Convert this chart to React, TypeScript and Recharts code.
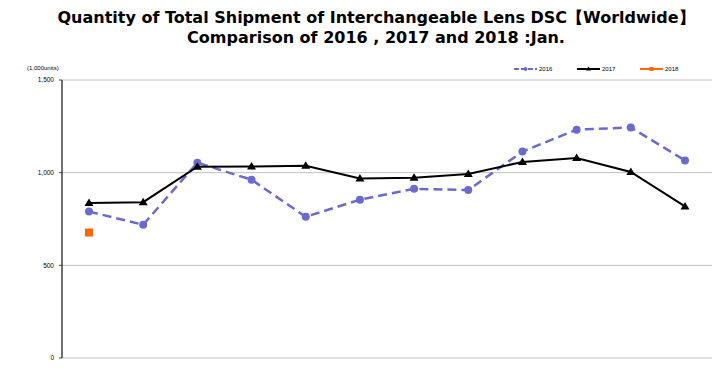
import React from 'react';
import { LineChart, Line, XAxis, YAxis, CartesianGrid } from 'recharts';

const months = ['Jan', 'Feb', 'Mar', 'Apr', 'May', 'Jun', 'Jul', 'Aug', 'Sep', 'Oct', 'Nov', 'Dec'];
const s2016 = [790, 719, 1054, 962, 762, 854, 913, 906, 1114, 1232, 1244, 1066];
const s2017 = [837, 841, 1032, 1033, 1037, 968, 973, 993, 1058, 1079, 1004, 818];
const s2018: (number | null)[] = [677, null, null, null, null, null, null, null, null, null, null, null];
const yTicks = [0, 500, 1000, 1500];
const seriesNames = ['2016', '2017', '2018'];

const data = months.map((m, i) => ({ month: m, y2016: s2016[i], y2017: s2017[i], y2018: s2018[i] }));

const C2016 = '#6b6bcf';
const C2017 = '#000000';
const C2018 = '#ff6600';
const colors = [C2016, C2017, C2018];

const Circle = (p: any) => {
  if (p.cx == null || p.cy == null || p.value == null) return <g key={p.index} />;
  return <circle key={p.index} cx={p.cx} cy={p.cy} r={4} fill={C2016} stroke="none" />;
};
const Tri = (p: any) => {
  if (p.cx == null || p.cy == null || p.value == null) return <g key={p.index} />;
  const { cx, cy } = p;
  return <path key={p.index} d={`M${cx},${cy - 4.5} L${cx + 4.5},${cy + 3} L${cx - 4.5},${cy + 3} Z`} fill={C2017} />;
};
const Sq = (p: any) => {
  if (p.cx == null || p.cy == null || p.value == null) return <g key={p.index} />;
  return <rect key={p.index} x={p.cx - 4} y={p.cy - 4} width={8} height={8} fill={C2018} />;
};

const fmt = (v: number) => v.toLocaleString('en-US');

const LegendBox = () => (
  <div style={{ position: 'absolute', left: 514, top: 65, display: 'flex', fontFamily: 'Liberation Sans, Arial, sans-serif', fontSize: 6, color: '#000' }}>
    {seriesNames.map((n, i) => (
      <div key={n} style={{ display: 'flex', alignItems: 'center', width: 63 }}>
        <svg width={23} height={8}>
          <line x1={0} y1={4} x2={23} y2={4} stroke={colors[i]} strokeWidth={2} strokeDasharray={i === 0 ? '5 2' : undefined} />
          {i === 0 && <circle cx={11.5} cy={4} r={2} fill={colors[i]} />}
          {i === 1 && <path d="M11.5,1.5 L14,5.5 L9,5.5 Z" fill={colors[i]} />}
          {i === 2 && <rect x={9.5} y={2} width={4} height={4} fill={colors[i]} />}
        </svg>
        <span style={{ marginLeft: 2 }}>{n}</span>
      </div>
    ))}
  </div>
);

export default function App() {
  return (
    <div style={{ position: 'absolute', left: 0, top: 0, width: 728, height: 370, background: '#fff', overflow: 'hidden' }}>
      <div style={{ position: 'absolute', left: 0, top: 8, width: 752, textAlign: 'center', fontFamily: 'DejaVu Sans, Verdana, sans-serif', fontWeight: 'bold', fontSize: 16, lineHeight: '20px', color: '#000' }}>
        <div>Quantity of Total Shipment of Interchangeable Lens DSC【Worldwide】</div>
        <div>Comparison of 2016 , 2017 and 2018 :Jan.</div>
      </div>
      <div style={{ position: 'absolute', left: 27, top: 65, fontFamily: 'Liberation Sans, Arial, sans-serif', fontSize: 6, color: '#000' }}>(1,000units)</div>
      <LegendBox />
      <LineChart width={728} height={370} data={data} margin={{ top: 80, right: 16, bottom: 12, left: 0 }}>
        <CartesianGrid vertical={false} stroke="#c0c0c0" />
        <XAxis dataKey="month" tick={false} tickLine={false} height={0} padding={{ left: 27, right: 27 }} axisLine={{ stroke: '#404040', strokeWidth: 1.5 }} />
        <XAxis xAxisId="top" dataKey="month" orientation="top" tick={false} tickLine={false} height={0} axisLine={{ stroke: '#808080' }} />
        <YAxis domain={[0, 1500]} ticks={yTicks} tickFormatter={fmt} width={62} tickSize={3} tickMargin={5}
          tick={{ fontSize: 6.5, fill: '#000', fontFamily: 'Liberation Sans, Arial, sans-serif' }}
          axisLine={{ stroke: '#404040', strokeWidth: 1.5 }} tickLine={{ stroke: '#404040' }} />
        <YAxis yAxisId="right" orientation="right" domain={[0, 1500]} tick={false} tickLine={false} width={0} axisLine={{ stroke: '#909090' }} />
        <Line dataKey="y2016" name="2016" stroke={C2016} strokeWidth={2.5} strokeDasharray="9 5" dot={Circle} activeDot={false} isAnimationActive={false} />
        <Line dataKey="y2017" name="2017" stroke={C2017} strokeWidth={2} dot={Tri} activeDot={false} isAnimationActive={false} />
        <Line dataKey="y2018" name="2018" stroke={C2018} strokeWidth={2} dot={Sq} activeDot={false} isAnimationActive={false} connectNulls={false} />
      </LineChart>
    </div>
  );
}
